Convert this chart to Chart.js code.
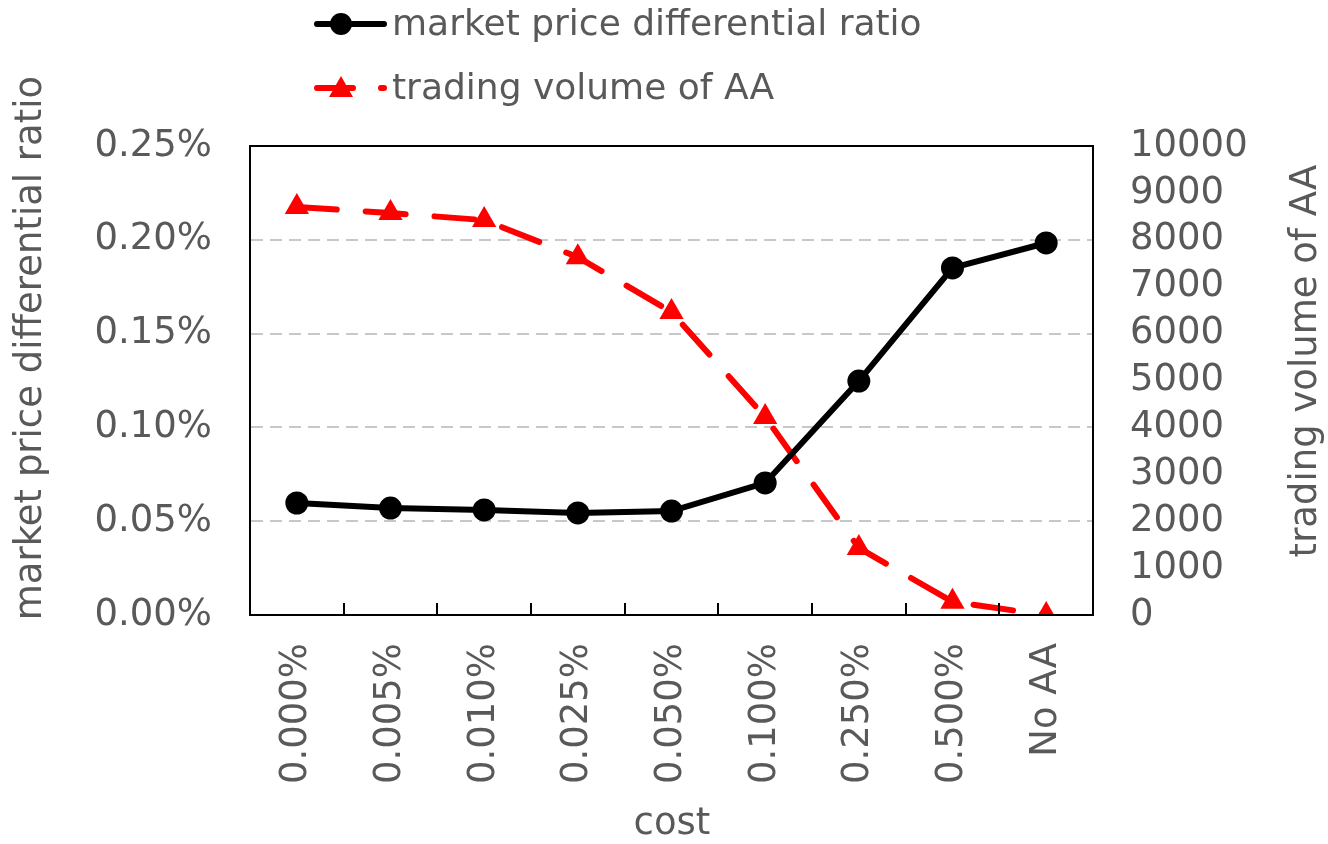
<!DOCTYPE html>
<html>
<head>
<meta charset="utf-8">
<script src="https://cdn.jsdelivr.net/npm/chart.js@4"></script>
<style>
  html, body { margin: 0; padding: 0; background: #fff; }
  #wrap { width: 1328px; height: 844px; }
</style>
</head>
<body>
<div id="wrap"><canvas id="chart" width="1328" height="844"></canvas></div>
<script>
const costLabels = ["0.000%", "0.005%", "0.010%", "0.025%", "0.050%", "0.100%", "0.250%", "0.500%", "No AA"];
// market price differential ratio, in percent
const priceDiffRatio = [0.0597, 0.0570, 0.0560, 0.0544, 0.0554, 0.0704, 0.1247, 0.1850, 0.1983];
// trading volume of AA
const tradingVolume = [8700, 8570, 8420, 7630, 6460, 4220, 1430, 280, 0];

const leftTicks = [0, 0.05, 0.1, 0.15, 0.2, 0.25];
const rightTicks = [0, 1000, 2000, 3000, 4000, 5000, 6000, 7000, 8000, 9000, 10000];

const textColor = "#595959";
const fontFamily = "'DejaVu Sans', sans-serif";
const fontSize = 37;
const redDash = [40, 29];

// box around plot, inner category ticks, axis titles and a two-row legend
const decorations = {
  id: "decorations",
  afterDraw(chart) {
    const { ctx, chartArea } = chart;
    const xs = chart.scales.x;
    ctx.save();
    ctx.strokeStyle = "#000";
    ctx.lineWidth = 2;
    ctx.strokeRect(chartArea.left, chartArea.top, chartArea.right - chartArea.left, chartArea.bottom - chartArea.top);
    for (let i = 1; i < costLabels.length; i++) {
      const x = Math.round((xs.getPixelForTick(i - 1) + xs.getPixelForTick(i)) / 2);
      ctx.beginPath();
      ctx.moveTo(x, chartArea.bottom);
      ctx.lineTo(x, chartArea.bottom - 12);
      ctx.stroke();
    }

    ctx.fillStyle = textColor;
    ctx.font = fontSize + "px " + fontFamily;
    ctx.textAlign = "center";
    ctx.textBaseline = "middle";
    ctx.fillText("cost", 672, 824);
    [
      { x: 31, y: 348, text: "market price differential ratio" },
      { x: 1306, y: 361, text: "trading volume of AA" },
    ].forEach((t) => {
      ctx.save();
      ctx.translate(t.x, t.y);
      ctx.rotate(-Math.PI / 2);
      ctx.fillText(t.text, 0, 0);
      ctx.restore();
    });

    // legend
    const rows = [
      { y: 24, text: "market price differential ratio", color: "#000", dash: [], style: "circle" },
      { y: 88, text: "trading volume of AA", color: "#ff0000", dash: [36, 28], style: "triangle" },
    ];
    rows.forEach((r) => {
      ctx.strokeStyle = r.color;
      ctx.lineWidth = 6;
      ctx.lineCap = "round";
      ctx.setLineDash(r.dash);
      ctx.beginPath();
      ctx.moveTo(317, r.y);
      ctx.lineTo(384, r.y);
      ctx.stroke();
      ctx.setLineDash([]);
      ctx.fillStyle = r.color;
      ctx.beginPath();
      if (r.style === "circle") {
        ctx.arc(341, r.y, 11, 0, Math.PI * 2);
      } else {
        ctx.moveTo(341, r.y - 12);
        ctx.lineTo(353, r.y + 9);
        ctx.lineTo(329, r.y + 9);
        ctx.closePath();
      }
      ctx.fill();
      ctx.fillStyle = textColor;
      ctx.font = "36px " + fontFamily;
      ctx.textBaseline = "middle";
      ctx.textAlign = "left";
      ctx.fillText(r.text, 392, r.y + 2);
    });
    ctx.restore();
  },
};

new Chart(document.getElementById("chart"), {
  type: "line",
  data: {
    labels: costLabels,
    datasets: [
      {
        label: "market price differential ratio",
        data: priceDiffRatio,
        yAxisID: "y",
        borderColor: "#000",
        backgroundColor: "#000",
        borderWidth: 6,
        borderCapStyle: "round",
        pointStyle: "circle",
        pointRadius: 11.5,
        pointBorderWidth: 0,
        tension: 0,
        order: 1,
      },
      {
        label: "trading volume of AA",
        data: tradingVolume,
        yAxisID: "y2",
        borderColor: "#ff0000",
        backgroundColor: "#ff0000",
        borderWidth: 6,
        borderDash: redDash,
        borderCapStyle: "round",
        pointStyle: "triangle",
        pointRadius: 14,
        pointBorderWidth: 0,
        tension: 0,
        order: 2,
      },
    ],
  },
  options: {
    responsive: false,
    animation: false,
    layout: {
      padding: { top: 146, left: 0, right: 0, bottom: 0 },
    },
    plugins: {
      legend: { display: false },
      tooltip: { enabled: false },
    },
    scales: {
      x: {
        offset: true,
        grid: { display: false, offset: true },
        border: { display: true, color: "#000", width: 2 },
        ticks: {
          color: textColor,
          font: { size: fontSize, family: fontFamily },
          maxRotation: 90,
          minRotation: 90,
          padding: 20,
          autoSkip: false,
        },
        afterFit: (scale) => {
          scale.height = 229;
        },
      },
      y: {
        position: "left",
        min: 0,
        max: 0.25,
        afterBuildTicks: (scale) => {
          scale.ticks = leftTicks.map((v) => ({ value: v }));
        },
        grid: {
          color: (c) => (c.tick.value === 0 || c.tick.value === 0.25 ? "rgba(0,0,0,0)" : "#c8c8c8"),
          lineWidth: 2,
          drawTicks: false,
        },
        border: { display: true, color: "#000", width: 2, dash: [12, 7] },
        ticks: {
          color: textColor,
          font: { size: fontSize, family: fontFamily },
          padding: 38,
          autoSkip: false,
          callback: (v) => v.toFixed(2) + "%",
        },
        afterFit: (scale) => {
          scale.width = 250;
        },
      },
      y2: {
        position: "right",
        min: 0,
        max: 10000,
        afterBuildTicks: (scale) => {
          scale.ticks = rightTicks.map((v) => ({ value: v }));
        },
        grid: { display: false, drawTicks: false },
        border: { display: true, color: "#000", width: 2 },
        ticks: {
          color: textColor,
          font: { size: fontSize, family: fontFamily },
          padding: 37,
          autoSkip: false,
          callback: (v) => String(v),
        },
        afterFit: (scale) => {
          scale.width = 235;
        },
      },
    },
  },
  plugins: [decorations],
});
</script>
</body>
</html>
